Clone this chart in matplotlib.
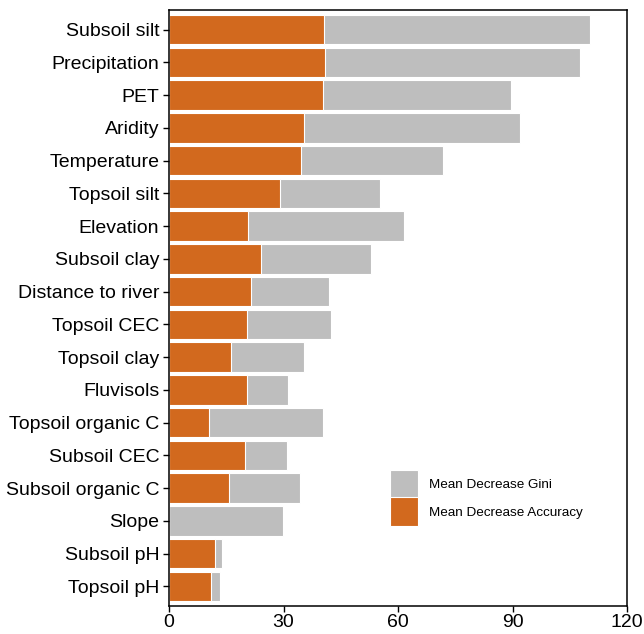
import matplotlib
matplotlib.use('Agg')
import matplotlib.pyplot as plt
import numpy as np

plt.rcParams['font.family'] = ['Liberation Sans', 'DejaVu Sans']

variables = ['Subsoil silt', 'Precipitation', 'PET', 'Aridity', 'Temperature',
             'Topsoil silt', 'Elevation', 'Subsoil clay', 'Distance to river',
             'Topsoil CEC', 'Topsoil clay', 'Fluvisols', 'Topsoil organic C',
             'Subsoil CEC', 'Subsoil organic C', 'Slope', 'Subsoil pH', 'Topsoil pH']
gini = [110.2, 107.6, 89.7, 91.9, 71.9, 55.2, 61.5, 52.8, 42.0,
        42.5, 35.5, 31.1, 40.4, 30.8, 34.4, 29.9, 14.0, 13.4]
accuracy = [40.5, 40.9, 40.4, 35.5, 34.5, 29.1, 20.7, 24.1, 21.4,
            20.5, 16.3, 20.4, 10.5, 19.9, 15.7, 0.0, 12.1, 10.9]

gray = '#BEBEBE'
orange = '#D2691E'

fig = plt.figure(figsize=(6.44, 6.34), dpi=100)
ax = fig.add_axes([169 / 644, 28 / 634, 458 / 644, 596 / 634])

y = np.arange(len(variables))[::-1]
ax.barh(y, gini, height=0.9, color=gray, edgecolor='white', linewidth=0.8,
        label='Mean Decrease Gini')
ax.barh(y, accuracy, height=0.9, color=orange, edgecolor='white', linewidth=0.8,
        label='Mean Decrease Accuracy')

ax.set_yticks(y)
ax.set_yticklabels(variables, fontsize=14)
ax.set_ylim(-0.6, len(variables) - 0.4)
ax.set_xlim(0, 120)
ax.set_xticks([0, 30, 60, 90, 120])
ax.tick_params(axis='x', labelsize=14, length=4, width=1, pad=2)
ax.tick_params(axis='y', length=4, width=1, pad=3)
for s in ax.spines.values():
    s.set_linewidth(1.1)

ax.legend(loc='upper left', bbox_to_anchor=(0.470, 0.238), frameon=False,
          fontsize=9.7, handlelength=2.13, handleheight=2.906, labelspacing=-0.08,
          handletextpad=0.8, borderaxespad=0)

plt.savefig('out.png', dpi=100)
plt.close()
